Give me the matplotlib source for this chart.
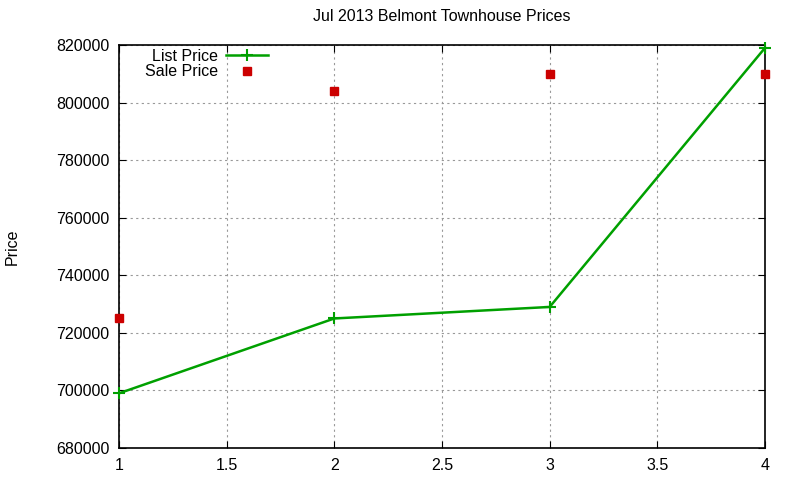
import matplotlib
matplotlib.use("Agg")
import matplotlib.pyplot as plt

plt.rcParams['font.family'] = ['Liberation Sans', 'DejaVu Sans']

x = [1, 2, 3, 4]
list_price = [699000, 725000, 729000, 819000]
sale_price = [725000, 804000, 810000, 810000]

fig = plt.figure(figsize=(8, 4.8), dpi=100)
ax = fig.add_axes([119/800, 1-448/480, (765-119)/800, (448-45)/480])

ax.plot(x, list_price, color='#00a000', lw=1.8, marker='+', ms=8, mew=1.5,
        label='List Price', clip_on=False, zorder=3)
ax.plot(x, sale_price, ls='none', color='#cc0000', marker='s', ms=6,
        label='Sale Price', clip_on=False, zorder=3)

ax.set_xlim(1, 4)
ax.set_ylim(680000, 820000)
ax.set_xticks([1, 1.5, 2, 2.5, 3, 3.5, 4])
ax.set_xticklabels(['1', '1.5', '2', '2.5', '3', '3.5', '4'])
ax.set_yticks(range(680000, 820001, 20000))
ax.set_yticklabels([str(v) for v in range(680000, 820001, 20000)])
ax.tick_params(direction='in', top=True, right=True, labelsize=11.5, length=5, pad=7)
ax.grid(True, ls=(0, (2, 3)), color='#999999', lw=0.8)
for s in ax.spines.values():
    s.set_linewidth(1.2)

ax.set_title('Jul 2013 Belmont Townhouse Prices', fontsize=11.5, pad=17)
fig.text(12/800, 0.485, 'Price', rotation=90, va='center', ha='center', fontsize=11.5)

ax.legend(loc='upper left', bbox_to_anchor=(0.0254, 1.015), frameon=False,
          markerfirst=False, fontsize=11.5, handlelength=2.6, labelspacing=0.05,
          borderaxespad=0.2, handletextpad=0.5)

fig.savefig('out.png', dpi=100)
